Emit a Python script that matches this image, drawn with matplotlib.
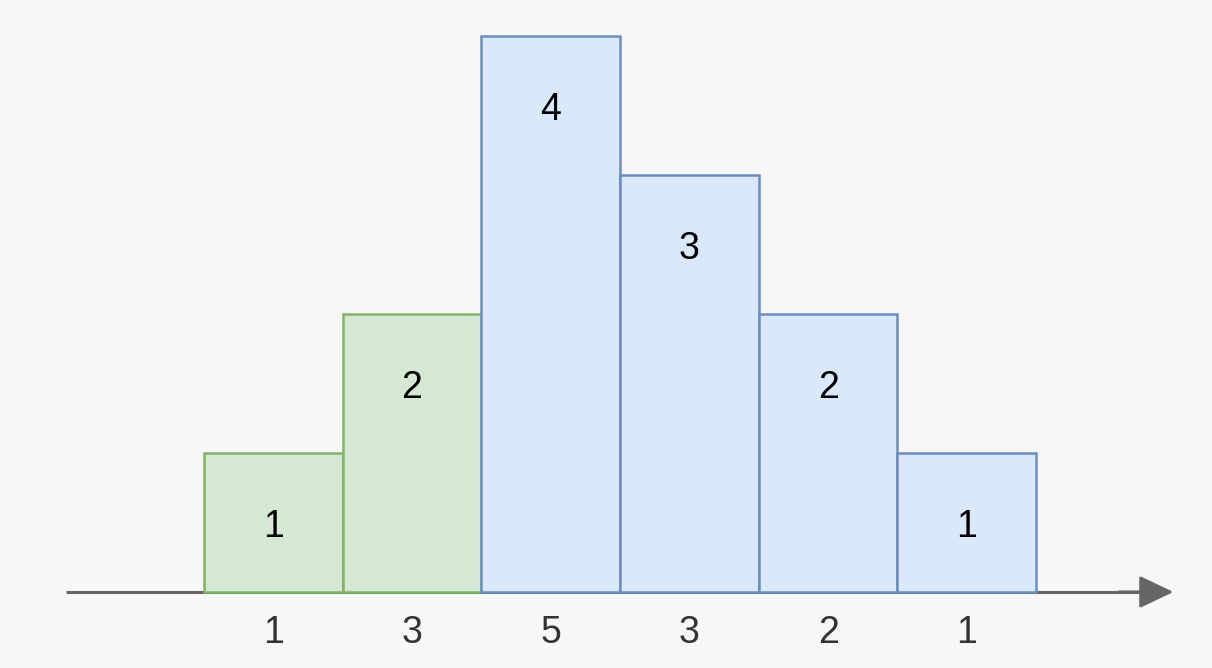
import matplotlib.pyplot as plt

# bar heights (number written inside) and values under the axis
heights = [1, 2, 4, 3, 2, 1]
bottom_labels = ["1", "3", "5", "3", "2", "1"]
groups = ["green", "green", "blue", "blue", "blue", "blue"]

fills = {"green": "#d5e8d4", "blue": "#dae8fc"}
edges = {"green": "#82b366", "blue": "#6c8ebf"}

plt.rcParams['font.family'] = ['Liberation Sans', 'DejaVu Sans']

fig = plt.figure(figsize=(12.12, 6.68), dpi=100)
fig.patch.set_facecolor("#f7f7f7")
ax = fig.add_axes([0, 0, 1, 1])
ax.set_facecolor("#f7f7f7")
ax.set_xlim(-1.471, 7.268)
ax.set_ylim(-0.547, 4.259)
ax.axis("off")

# axis with arrow
ax.plot([-0.995, 6.8], [0, 0], color="#666666", lw=2.2, zorder=2, solid_capstyle="butt")
ax.annotate("", xy=(6.99, 0), xytext=(6.6, 0),
            arrowprops=dict(arrowstyle="-|>,head_length=2.1,head_width=1.0",
                            color="#666666", lw=2.2, shrinkA=0, shrinkB=0), zorder=2)

for i, (h, lab, g) in enumerate(zip(heights, bottom_labels, groups)):
    ax.bar(i, h, width=1, align="edge", color=fills[g], edgecolor=edges[g],
           linewidth=1.8, zorder=3)
    ax.text(i + 0.5, h - 0.53, str(h), fontsize=27, ha="center", va="center",
            color="#000000", zorder=4)
    ax.text(i + 0.5, -0.295, lab, fontsize=27, ha="center", va="center",
            color="#333333", zorder=4)

fig.savefig("out.png", dpi=100, facecolor=fig.get_facecolor())
